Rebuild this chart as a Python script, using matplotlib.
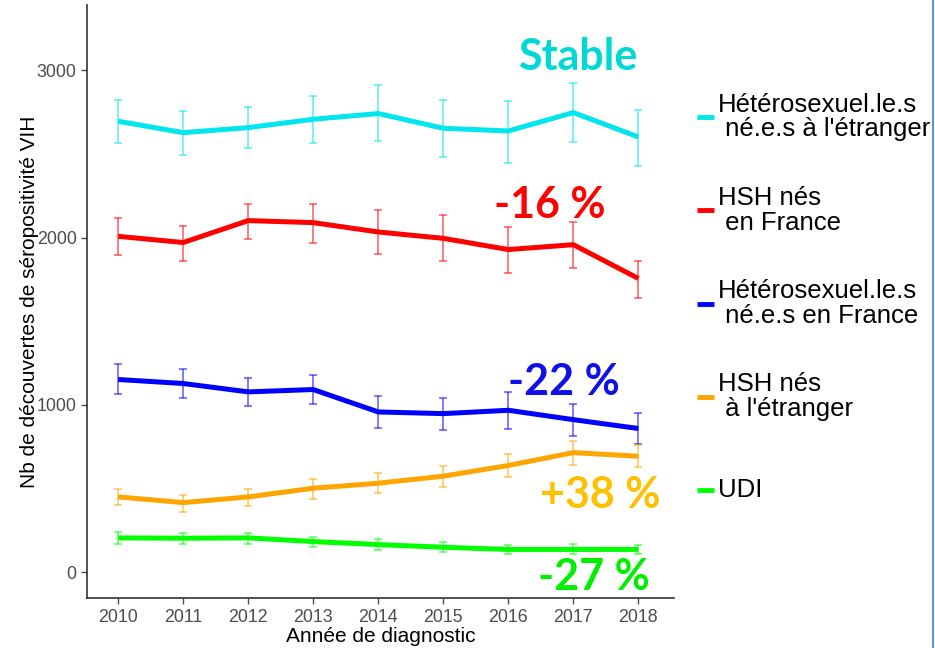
import matplotlib.pyplot as plt
import numpy as np
from matplotlib.lines import Line2D

years = [2010, 2011, 2012, 2013, 2014, 2015, 2016, 2017, 2018]

labels = ["Hétérosexuel.le.s\n né.e.s à l'étranger",
          "HSH nés\n en France",
          "Hétérosexuel.le.s\n né.e.s en France",
          "HSH nés\n à l'étranger",
          "UDI"]
colors = ["#00E5EE", "#FF0000", "#0000FF", "#FFA500", "#00FF00"]

# valeurs estimées + bornes des barres d'erreur
hetero_etr = [2696, 2628, 2658, 2708, 2742, 2654, 2638, 2748, 2602]
hetero_etr_lo = [2567, 2497, 2536, 2568, 2576, 2481, 2445, 2572, 2431]
hetero_etr_hi = [2826, 2757, 2779, 2849, 2911, 2826, 2817, 2927, 2766]

hsh_fr = [2008, 1971, 2102, 2090, 2034, 1996, 1929, 1958, 1756]
hsh_fr_lo = [1899, 1861, 1995, 1971, 1901, 1863, 1791, 1817, 1638]
hsh_fr_hi = [2118, 2072, 2204, 2204, 2166, 2136, 2062, 2094, 1862]

hetero_fr = [1152, 1128, 1078, 1092, 958, 948, 968, 912, 859]
hetero_fr_lo = [1068, 1044, 992, 1006, 863, 851, 859, 817, 764]
hetero_fr_hi = [1243, 1213, 1158, 1180, 1052, 1044, 1076, 1008, 953]

hsh_etr = [450, 416, 450, 502, 532, 574, 638, 715, 693]
hsh_etr_lo = [400, 357, 396, 440, 472, 510, 572, 640, 628]
hsh_etr_hi = [496, 464, 496, 558, 594, 634, 705, 787, 763]

udi = [205, 203, 205, 183, 165, 149, 136, 136, 136]
udi_lo = [167, 169, 171, 151, 133, 120, 108, 106, 108]
udi_hi = [243, 235, 237, 213, 197, 181, 163, 167, 163]

series = [(hetero_etr, hetero_etr_lo, hetero_etr_hi),
          (hsh_fr, hsh_fr_lo, hsh_fr_hi),
          (hetero_fr, hetero_fr_lo, hetero_fr_hi),
          (hsh_etr, hsh_etr_lo, hsh_etr_hi),
          (udi, udi_lo, udi_hi)]

annot_text = ["Stable", "-16 %", "-22 %", "+38 %", "-27 %"]
annot_colors = ["#00D8D8", "#FF0000", "#1010E8", "#FFC000", "#00EE00"]
annot_x = [2017.06, 2016.63, 2016.86, 2017.42, 2017.31]
annot_y = [3078, 2194, 1136, 460, -30]

plt.rcParams['font.family'] = ['Liberation Sans', 'DejaVu Sans']

fig = plt.figure(figsize=(9.35, 6.48), dpi=100)
ax = fig.add_axes([0.093, 0.077, 0.628, 0.915])

for (vals, lo, hi), c in zip(series, colors):
    vals = np.array(vals)
    err = [vals - np.array(lo), np.array(hi) - vals]
    ax.errorbar(years, vals, yerr=err, fmt='none', ecolor=c, alpha=0.55,
                elinewidth=1.3, capsize=3, capthick=1.3)
    ax.plot(years, vals, color=c, lw=3.6, solid_capstyle='butt')

for t, c, x, y in zip(annot_text, annot_colors, annot_x, annot_y):
    ax.text(x, y, t, color=c, fontsize=31, fontweight='bold', family='Lato',
            ha='center', va='center')

ax.set_xlim(2009.52, 2018.55)
ax.set_ylim(-155, 3390)
ax.set_xticks(years)
ax.set_yticks([0, 1000, 2000, 3000])
ax.tick_params(colors='#4D4D4D', labelsize=12.8, length=4, width=1)
for s in ['top', 'right']:
    ax.spines[s].set_visible(False)
for s in ['left', 'bottom']:
    ax.spines[s].set_color('#333333')
    ax.spines[s].set_linewidth(1.2)
ax.set_xlabel("Année de diagnostic", fontsize=15, labelpad=1)
ax.set_ylabel("Nb de découvertes de séropositivité VIH", fontsize=15, labelpad=-1.5)

# légende dessinée à la main (espacement régulier comme ggplot)
W, H = 935, 648
for i, (lab, c) in enumerate(zip(labels, colors)):
    py = 117 + i * 93.3
    fig.add_artist(Line2D([697 / W, 714 / W], [1 - py / H, 1 - py / H],
                          color=c, lw=3.5, solid_capstyle='butt',
                          transform=fig.transFigure))
    fig.text(718 / W, 1 - py / H, lab, fontsize=18.5, ha='left', va='center',
             linespacing=1.05)

fig.add_artist(Line2D([0.998, 0.998], [0, 1], color='#5B9BD5', lw=1.5,
                      transform=fig.transFigure))

fig.savefig('out.png', dpi=100)
